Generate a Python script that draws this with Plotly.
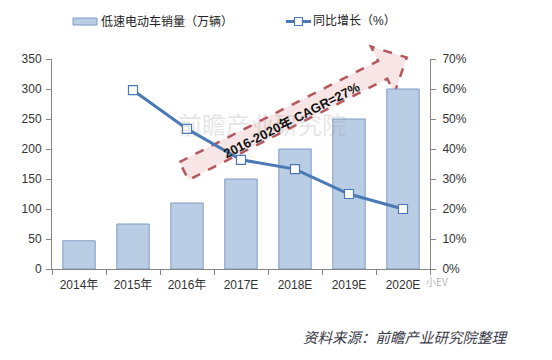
import math
import plotly.graph_objects as go

categories = ["2014年", "2015年", "2016年", "2017E", "2018E", "2019E", "2020E"]
sales = [47, 75, 110, 150, 200, 250, 300]          # 万辆
growth_cats = ["2015年", "2016年", "2017E", "2018E", "2019E", "2020E"]
growth = [0.596, 0.467, 0.364, 0.333, 0.25, 0.20]   # 同比增长
bar_name = "低速电动车销量（万辆）"
line_name = "同比增长（%）"
cagr_text = "2016-2020年 CAGR=27%"
source_text = "资料来源：前瞻产业研究院整理"
watermark = "前瞻产业研究院"

W, H = 552, 360
L, R, T, B = 52, 430, 59, 269   # plot area in pixels


def px(x):
    return (x - L) / (R - L)


def py(y):
    return (B - y) / (B - T)


FONT = "Liberation Sans, Arial, Noto Sans CJK SC, sans-serif"
BAR_FILL = "#b9cde5"
BAR_EDGE = "#7f9cc4"
LINE_C = "#4a79b5"
ARROW_C = "#b5575c"

fig = go.Figure()
fig.add_trace(go.Bar(
    x=categories, y=sales, name=bar_name, width=0.6,
    marker=dict(color=BAR_FILL, line=dict(color=BAR_EDGE, width=1)),
    showlegend=False,
))
fig.add_trace(go.Scatter(
    x=growth_cats, y=growth, name=line_name, yaxis="y2", mode="lines+markers",
    line=dict(color=LINE_C, width=3),
    marker=dict(symbol="square", size=9, color="white", line=dict(color=LINE_C, width=1.2)),
    showlegend=False,
))

# big dashed arrow (pixel geometry -> paper)
ang = math.radians(27)
ux, uy = math.cos(ang), -math.sin(ang)
nx, ny = math.sin(ang), math.cos(ang)
cx0, cy0 = 184, 171
poly = [(0, -10), (223, -10), (223, -26), (250, 0), (223, 26), (223, 10), (0, 10)]
pts = []
for a, p in poly:
    X = cx0 + a * ux + p * nx
    Y = cy0 + a * uy + p * ny
    pts.append((px(X), py(Y)))
path = "M " + " L ".join(f"{x:.4f},{y:.4f}" for x, y in pts) + " Z"

shapes = [
    dict(type="path", path=path, xref="paper", yref="paper",
         fillcolor="rgba(240,200,200,0.45)",
         line=dict(color=ARROW_C, width=2.5, dash="dash"), layer="below"),
    # custom legend
    dict(type="rect", xref="paper", yref="paper",
         x0=px(73), x1=px(97), y0=py(25), y1=py(18),
         fillcolor=BAR_FILL, line=dict(color=BAR_EDGE, width=1)),
    dict(type="line", xref="paper", yref="paper",
         x0=px(286), x1=px(311), y0=py(21.5), y1=py(21.5),
         line=dict(color=LINE_C, width=3)),
    dict(type="rect", xref="paper", yref="paper",
         x0=px(294.5), x1=px(302.5), y0=py(25.5), y1=py(17.5),
         fillcolor="white", line=dict(color=LINE_C, width=1.2)),
]

annotations = [
    dict(text=bar_name, x=px(99), y=py(21.5), xref="paper", yref="paper",
         xanchor="left", yanchor="middle", showarrow=False,
         font=dict(family=FONT, size=12, color="#222")),
    dict(text=line_name, x=px(311), y=py(21.5), xref="paper", yref="paper",
         xanchor="left", yanchor="middle", showarrow=False,
         font=dict(family=FONT, size=12, color="#222")),
    dict(text=watermark, x=px(262), y=py(123), xref="paper", yref="paper",
         xanchor="center", yanchor="middle", showarrow=False,
         font=dict(family="Noto Sans CJK SC", size=24, color="rgba(150,150,150,0.25)")),
    dict(text="<b>" + cagr_text + "</b>", x=px(291), y=py(120), xref="paper", yref="paper",
         xanchor="center", yanchor="middle", showarrow=False, textangle=-27,
         font=dict(family=FONT, size=13, color="#111")),
    dict(text="<i>" + source_text + "</i>", x=px(510), y=py(336), xref="paper", yref="paper",
         xanchor="right", yanchor="middle", showarrow=False,
         font=dict(family="Noto Sans CJK SC", size=14.5, color="#3a3a48")),
    dict(text="小EV", x=px(424), y=py(281), xref="paper", yref="paper",
         xanchor="left", yanchor="middle", showarrow=False,
         font=dict(family="Noto Sans CJK SC", size=10, color="rgba(120,120,120,0.6)")),
]

axis_common = dict(showline=True, linecolor="#868686", linewidth=1, ticks="outside",
                   ticklen=5, tickcolor="#868686", showgrid=False, zeroline=False,
                   tickfont=dict(family=FONT, size=12, color="#333"))

fig.update_layout(
    width=W, height=H,
    margin=dict(l=L, r=W - R, t=T, b=H - B, pad=0),
    paper_bgcolor="white", plot_bgcolor="rgba(0,0,0,0)",
    showlegend=False,
    xaxis=dict(**axis_common, type="category", tickson="boundaries", range=[-0.5, 6.5],
               ticklabelstandoff=5),
    yaxis=dict(**axis_common, range=[0, 350], dtick=50, ticklabelstandoff=2),
    yaxis2=dict(**axis_common, overlaying="y", side="right", range=[0, 0.7],
                dtick=0.1, tickformat=".0%", ticklabelstandoff=4),
    shapes=shapes, annotations=annotations,
    bargap=0.4,
)

fig.write_html("out.html", config={"displayModeBar": False},
               post_script="document.body.style.margin='0';")
